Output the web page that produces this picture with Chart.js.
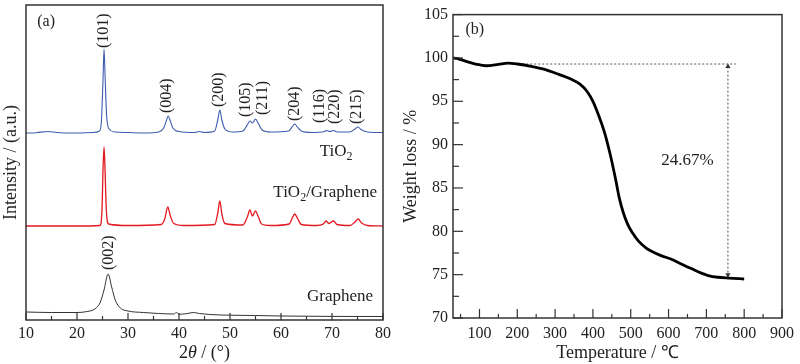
<!DOCTYPE html>
<html>
<head>
<meta charset="utf-8">
<script src="https://cdn.jsdelivr.net/npm/chart.js@4.4.1/dist/chart.umd.min.js"></script>
<style>
  body { margin: 0; background: #fff; }
  #wrap { position: relative; width: 800px; height: 364px; background: #fff; }
  canvas { position: absolute; top: 0; }
</style>
</head>
<body>
<div id="wrap">
  <canvas id="xrd" width="400" height="364" style="left:0"></canvas>
  <canvas id="tga" width="400" height="364" style="left:400px"></canvas>
</div>
<script>
// ---- (a) XRD patterns, intensity in arbitrary units (curves stacked) ----
const thetaTiO2 = [10, 12, 14.3, 16, 20, 23, 24.4, 24.8, 25.1, 25.3, 25.5, 25.8, 26.3, 27.5, 30, 33, 36, 37, 37.5, 37.9, 38.3, 38.8, 40, 43, 44, 45, 47, 47.6, 48, 48.4, 49, 50.5, 52.5, 53.5, 53.9, 54.4, 55, 55.5, 56.3, 58, 61.5, 62.3, 62.7, 63.2, 64, 66, 68.5, 68.9, 69.6, 70.3, 71, 73.5, 74.5, 75.1, 75.7, 77, 80];
const intTiO2 = [187, 187.3, 188.5, 187.5, 187, 187.5, 189, 200, 240, 271, 245, 205, 191, 188, 187.5, 187, 188, 192, 199, 204, 199, 192, 188.5, 187.5, 188.5, 187.5, 189, 200, 210, 200, 191, 188, 189, 196, 199, 197, 201, 197, 190, 188, 189, 194, 196, 193, 189, 187.5, 188.5, 189.5, 188.5, 189.5, 188, 188, 191, 193, 190.5, 188, 187.5];

const thetaComposite = [10, 20, 24.5, 24.9, 25.1, 25.3, 25.5, 25.75, 26.2, 30, 36.5, 37.2, 37.8, 38.3, 39, 41, 47, 47.6, 48, 48.4, 49, 52.5, 53.4, 53.9, 54.4, 55, 55.5, 56.2, 58, 61.6, 62.3, 62.7, 63.2, 64, 67, 68.3, 68.8, 69.4, 70.3, 71, 73.5, 74.5, 75.1, 75.8, 77, 80];
const intComposite = [94, 94, 94.5, 110, 150, 173, 150, 110, 96, 94.5, 95.5, 101, 113, 104, 96.5, 94.5, 95.5, 107, 119, 106, 96.5, 95, 103, 110, 104, 109, 104, 96, 94.5, 96, 103, 106, 102, 95.5, 94.5, 96, 99, 96.5, 99, 95.5, 94.5, 98, 101, 97, 94.5, 94];

const thetaGraphene = [10, 15, 20, 22, 23.5, 24.5, 25.3, 26.1, 26.8, 27.5, 28.5, 30, 33, 36, 39, 39.5, 40, 41.5, 42.8, 44, 46, 50, 55, 60, 70, 80];
const intGraphene = [8, 7.5, 7.5, 8.5, 11, 17, 30, 46, 33, 20, 12, 9, 7.5, 6.5, 6, 7.5, 5.8, 6.3, 7.5, 6.5, 5.5, 4.8, 4.5, 4, 3.6, 3.5];

const peakLabels = ['(101)', '(004)', '(200)', '(105)', '(211)', '(204)', '(116)', '(220)', '(215)', '(002)'];
const peakLabelTheta = [25.3, 37.7, 47.8, 53.1, 56.4, 62.8, 67.6, 70.6, 74.9, 26.2];
const peakLabelBase = [272, 207, 213, 203, 205, 199, 197, 196, 196, 50];

const seriesNames = ['TiO2', 'TiO2/Graphene', 'Graphene'];
const xTicksA = [10, 20, 30, 40, 50, 60, 70, 80];
const xMinorA = [15, 25, 35, 45, 55, 65, 75];

// ---- (b) TGA curve ----
const tgaTemp = [30, 40, 65, 90, 117, 150, 175, 200, 240, 270, 310, 340, 365, 385, 400, 415, 430, 445, 460, 470, 480, 492, 505, 520, 540, 555, 580, 606, 635, 660, 685, 705, 730, 760, 800];
const tgaWeight = [100.0, 99.95, 99.6, 99.3, 99.1, 99.25, 99.4, 99.3, 99.0, 98.7, 98.1, 97.6, 97.0, 96.1, 95.0, 93.4, 91.5, 89.0, 86.0, 83.8, 82.2, 80.8, 79.8, 78.9, 78.1, 77.7, 77.2, 76.8, 76.2, 75.7, 75.2, 74.9, 74.7, 74.6, 74.5];
const guideHTemp = [192, 778];
const guideHWeight = [99.3, 99.3];
const guideVTemp = [757, 757];
const guideVWeight = [99.0, 75.0];
const lossLabel = '24.67%';
const xTicksB = [100, 200, 300, 400, 500, 600, 700, 800, 900];
const xMinorB = [50, 150, 250, 350, 450, 550, 650, 750, 850];
const yTicksB = [70, 75, 80, 85, 90, 95, 100, 105];
const yMinorB = [72.5, 77.5, 82.5, 87.5, 92.5, 97.5, 102.5];

const FONT = '"Liberation Serif", "Times New Roman", serif';
const INK = '#222';
Chart.defaults.font.family = FONT;
Chart.defaults.font.size = 16;
Chart.defaults.color = INK;

const pts = (xs, ys) => xs.map((x, i) => ({ x: x, y: ys[i] }));

// box round the plot area plus inward tick marks
const framePlugin = {
  id: 'frame',
  afterDraw(chart, args, o) {
    const { ctx, chartArea: a, scales } = chart;
    ctx.save();
    ctx.strokeStyle = '#333';
    ctx.lineWidth = 1.2;
    const line = (x1, y1, x2, y2) => { ctx.beginPath(); ctx.moveTo(x1, y1); ctx.lineTo(x2, y2); ctx.stroke(); };
    (o.xMajor || []).forEach(v => { const p = scales.x.getPixelForValue(v); line(p, a.bottom, p, a.bottom - o.xLen[0]); });
    (o.xMinor || []).forEach(v => { const p = scales.x.getPixelForValue(v); line(p, a.bottom, p, a.bottom - o.xLen[1]); });
    (o.yMajor || []).forEach(v => { const p = scales.y.getPixelForValue(v); line(a.left, p, a.left + o.yLen[0], p); });
    (o.yMinor || []).forEach(v => { const p = scales.y.getPixelForValue(v); line(a.left, p, a.left + o.yLen[1], p); });
    ctx.lineWidth = 1.5;
    ctx.strokeRect(a.left, a.top, a.right - a.left, a.bottom - a.top);
    ctx.restore();
  }
};

// writes "TiO2" style text with the 2 lowered
function drawChem(ctx, text, x, y) {
  let cx = x;
  text.split(/(O2)/).forEach(p => {
    if (p === 'O2') {
      ctx.font = '17px ' + FONT;
      ctx.fillText('O', cx, y); cx += ctx.measureText('O').width;
      ctx.font = '12px ' + FONT;
      ctx.fillText('2', cx, y + 5); cx += ctx.measureText('2').width;
    } else if (p) {
      ctx.font = '17px ' + FONT;
      ctx.fillText(p, cx, y); cx += ctx.measureText(p).width;
    }
  });
}

const xrdText = {
  id: 'xrdText',
  afterDatasetsDraw(chart) {
    const { ctx, chartArea: a, scales: { x, y } } = chart;
    ctx.save();
    ctx.fillStyle = INK;
    ctx.font = '16px ' + FONT;
    peakLabels.forEach((t, i) => {
      ctx.save();
      ctx.translate(x.getPixelForValue(peakLabelTheta[i]), y.getPixelForValue(peakLabelBase[i]));
      ctx.rotate(-Math.PI / 2);
      ctx.textAlign = 'left';
      ctx.textBaseline = 'middle';
      ctx.fillText(t, 0, 0);
      ctx.restore();
    });
    ctx.textAlign = 'left';
    ctx.textBaseline = 'middle';
    // curve names: [2theta, level] of the left end of each name
    const at = [[67.6, 168], [58.5, 127], [65.1, 23]];
    seriesNames.forEach((n, i) => drawChem(ctx, n, x.getPixelForValue(at[i][0]), y.getPixelForValue(at[i][1])));
    ctx.font = '16px ' + FONT;
    ctx.fillText('(a)', x.getPixelForValue(12.2), y.getPixelForValue(298));
    // x title with italic theta
    const yT = 353;
    ctx.font = '18px ' + FONT;
    const w1 = ctx.measureText('2').width, w3 = ctx.measureText(' / (°)').width;
    ctx.font = 'italic 18px ' + FONT;
    const w2 = ctx.measureText('θ').width;
    let sx = (a.left + a.right) / 2 - (w1 + w2 + w3) / 2;
    ctx.font = '18px ' + FONT; ctx.fillText('2', sx, yT); sx += w1;
    ctx.font = 'italic 18px ' + FONT; ctx.fillText('θ', sx, yT); sx += w2;
    ctx.font = '18px ' + FONT; ctx.fillText(' / (°)', sx, yT);
    ctx.restore();
  }
};

new Chart(document.getElementById('xrd'), {
  type: 'line',
  data: {
    datasets: [
      { label: 'TiO2', data: pts(thetaTiO2, intTiO2), borderColor: '#3d5cae', borderWidth: 1.1 },
      { label: 'TiO2/Graphene', data: pts(thetaComposite, intComposite), borderColor: '#e3191f', borderWidth: 1.3 },
      { label: 'Graphene', data: pts(thetaGraphene, intGraphene), borderColor: '#333', borderWidth: 1 }
    ]
  },
  options: {
    responsive: false,
    animation: false,
    devicePixelRatio: 1,
    layout: { padding: { top: 5, right: 17, left: 0, bottom: 0 } },
    elements: { point: { radius: 0 }, line: { cubicInterpolationMode: 'monotone' } },
    plugins: {
      legend: { display: false },
      tooltip: { enabled: false },
      frame: { xMajor: xTicksA, xMinor: xMinorA, xLen: [7, 4] }
    },
    scales: {
      x: {
        type: 'linear', min: 10, max: 80,
        afterBuildTicks: s => { s.ticks = xTicksA.map(v => ({ value: v })); },
        afterFit: s => { s.height = 44; },
        grid: { display: false, drawTicks: false }, border: { display: false },
        ticks: { padding: 4, maxRotation: 0, autoSkip: false }
      },
      y: {
        min: 0, max: 315,
        afterFit: s => { s.width = 26; },
        grid: { display: false, drawTicks: false }, border: { display: false },
        ticks: { display: false },
        title: { display: true, text: 'Intensity / (a.u.)', font: { size: 18 }, padding: { top: 0, bottom: 0 } }
      }
    }
  },
  plugins: [framePlugin, xrdText]
});

const tgaText = {
  id: 'tgaText',
  afterDatasetsDraw(chart) {
    const { ctx, scales: { x, y } } = chart;
    ctx.save();
    ctx.fillStyle = INK;
    ctx.font = '16px ' + FONT;
    ctx.textBaseline = 'middle';
    ctx.textAlign = 'left';
    ctx.fillText('(b)', x.getPixelForValue(63), y.getPixelForValue(103.3));
    ctx.font = '17px ' + FONT;
    ctx.textAlign = 'center';
    ctx.fillText(lossLabel, x.getPixelForValue(650), y.getPixelForValue(88.2));
    ctx.restore();
  }
};

new Chart(document.getElementById('tga'), {
  type: 'line',
  data: {
    datasets: [
      { label: 'TGA', data: pts(tgaTemp, tgaWeight), borderColor: '#000', borderWidth: 2.8, cubicInterpolationMode: 'monotone' },
      { label: 'level', data: pts(guideHTemp, guideHWeight), borderColor: '#555', borderWidth: 1, borderDash: [2, 2] },
      {
        label: 'loss', data: pts(guideVTemp, guideVWeight), borderColor: '#555', borderWidth: 1, borderDash: [2, 2],
        pointStyle: 'triangle', pointRadius: 3, pointRotation: [0, 180],
        pointBackgroundColor: '#333', pointBorderColor: '#333', pointBorderWidth: 0
      }
    ]
  },
  options: {
    responsive: false,
    animation: false,
    devicePixelRatio: 1,
    layout: { padding: { top: 10, right: 14, left: 0, bottom: 0 } },
    elements: { point: { radius: 0 } },
    plugins: {
      legend: { display: false },
      tooltip: { enabled: false },
      frame: { xMajor: xTicksB, xMinor: xMinorB, xLen: [9, 4], yMajor: yTicksB, yMinor: yMinorB, yLen: [10, 6] }
    },
    scales: {
      x: {
        type: 'linear', min: 30, max: 900,
        afterBuildTicks: s => { s.ticks = xTicksB.map(v => ({ value: v })); },
        afterFit: s => { s.height = 46; },
        grid: { display: false, drawTicks: false }, border: { display: false },
        ticks: { padding: 6, maxRotation: 0, autoSkip: false },
        title: { display: true, text: 'Temperature / ℃', font: { size: 18 }, padding: { top: 0, bottom: 0 } }
      },
      y: {
        min: 70, max: 105,
        afterBuildTicks: s => { s.ticks = yTicksB.map(v => ({ value: v })); },
        afterFit: s => { s.width = 53; },
        grid: { display: false, drawTicks: false }, border: { display: false },
        ticks: { padding: 5, autoSkip: false },
        title: { display: true, text: 'Weight loss / %', font: { size: 18 }, padding: { top: 0, bottom: 0 } }
      }
    }
  },
  plugins: [framePlugin, tgaText]
});
</script>
</body>
</html>
